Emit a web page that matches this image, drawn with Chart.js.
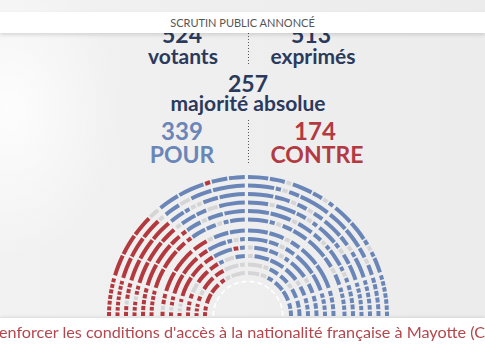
<!DOCTYPE html>
<html><head><meta charset="utf-8">
<script src="https://cdn.jsdelivr.net/npm/chart.js@4.4.1/dist/chart.umd.min.js"></script>
<style>
html,body{margin:0;padding:0;width:485px;height:360px;overflow:hidden;}
body{position:relative;background:#ececec;font-family:Lato,"Open Sans",sans-serif;}
#bg{position:absolute;left:0;top:0;width:485px;height:360px;
 background:radial-gradient(ellipse 110px 150px at 10px 110px, rgba(255,255,255,0.85), rgba(255,255,255,0) 100%),
 linear-gradient(90deg,#f2f2f2 0%,#efefef 40%,#ececec 100%);}
#header{position:absolute;left:0;top:12px;width:485px;height:21px;background:#fff;box-shadow:0 2px 4px rgba(0,0,0,0.13);
 text-align:center;font-size:11px;line-height:21px;color:#555;z-index:5;}
.t{position:absolute;white-space:nowrap;font-weight:700;line-height:1;transform:translateX(-50%);color:#2b3a5c;}
.dots{position:absolute;left:247.5px;width:1px;background:repeating-linear-gradient(to bottom,#5a5a5a 0 1.2px,rgba(0,0,0,0) 1.2px 3px);}
#hemi{position:absolute;}
#banner{position:absolute;left:0;top:318px;width:485px;height:42px;background:#fff;box-shadow:0 -1px 3px rgba(0,0,0,0.10);z-index:5;overflow:hidden;}
#banner span{position:absolute;left:-1px;top:6px;font-size:16.2px;line-height:1;color:#b3474c;white-space:nowrap;}
</style></head>
<body>
<div id="bg"></div>
<div id="header">SCRUTIN PUBLIC ANNONCÉ</div>
<div class="t" id="tVot" style="left:182px;top:23px;font-size:23px;"></div>
<div class="t" id="tVotL" style="left:183px;top:45px;font-size:21px;">votants</div>
<div class="t" id="tExp" style="left:311px;top:23px;font-size:23px;"></div>
<div class="t" id="tExpL" style="left:313px;top:45px;font-size:21px;">exprimés</div>
<div class="dots" style="top:33px;height:33px;"></div>
<div class="t" id="tMaj" style="left:248px;top:72px;font-size:23px;"></div>
<div class="t" style="left:248px;top:92px;font-size:21px;">majorité absolue</div>
<div class="t" id="tPour" style="left:182px;top:119px;font-size:24px;color:#6a86b8;"></div>
<div class="t" style="left:182px;top:143px;font-size:23px;color:#6a86b8;">POUR</div>
<div class="t" id="tContre" style="left:315px;top:119px;font-size:24px;color:#b23a41;"></div>
<div class="t" style="left:317px;top:143px;font-size:23px;color:#b23a41;">CONTRE</div>
<div class="dots" style="top:120px;height:45px;"></div>
<canvas id="hemi" width="284" height="142"></canvas>
<div id="banner"><span>enforcer les conditions d'accès à la nationalité française à Mayotte (C</span></div>
<script>
// ---- vote figures ----
const votants = 524;
const exprimes = 513;
const majorite = 257;
const pour = 339;
const contre = 174;

// ---- seats of the hemicycle, outer row first, left to right, by sector ----
// r = contre, b = pour, g = non votant / abstention ; space = small break
const row01 = ["r r r r r r r", "rrrr rrrr rrrr gg", "bbbb bbbbb rbbb bbb", "bbbb bbb g bbbb bbgb", "bbbb bbbb bgb bbb", "b b b b b b b"];
const row02 = ["r r r r r r r", "rrrr rrrr rrrr g", "bbb gg bbbb bbbbbb", "bbbbb bgbb bbbbbb", "bbbb bbbb bbgbb", "b b b b b b"];
const row03 = ["r r g r r r", "rrrr rrrr rrrr", "bbb bg gbbb bbbbb", "bbbbb bbbg bbgbb", "bbbb bbgb bbbb", "b b b b b b"];
const row04 = ["r r r g r r", "rrrr rrrr rrr", "gbbb bbgg bbbbb", "bbbb gbbbb bbgb", "bbbb bgbb bbb", "b b b b b b"];
const row05 = ["r r r r r", "rrrr rrrr rr", "rbbb gbbb bbbb", "bbbb bbbb gbbb", "bbgb bbbb bgb", "b b b b b"];
const row06 = ["r r r r r", "rrrr rrrr rr", "rbbb bbgb bbb", "bbbb bgbb bbb", "bbbb bbgbb", "b b b b b"];
const row07 = ["r g r r", "rrrr rrrrr", "rrr gbbb bbb", "bbbb bbb gbb", "bbbb bbbbb", "b b b b"];
const row08 = ["r g r r", "rrrr rrrr", "rr bbbb bgb", "bbbb bbgbb", "bbbb bbb", "b b b b"];
const row09 = ["r g g r", "rrrr rrr", "rr bbbb rb", "gbbb bbgb", "bbbb gbb", "b b b"];
const row10 = ["r r r", "rgg rrr", "rr bgg bb", "gbbb bbb", "bbb gbb", "b b b"];
const row11 = ["r r r", "r g rrr", "rr ggg g", "ggg gbb", "bb gbb", "b b"];
const row12 = ["r r", "rr rr", "rg ggg", "gg gb", "bb bb", "b b"];
const rows = [row01, row02, row03, row04, row05, row06, row07, row08, row09, row10, row11, row12];
const sectorAngles = [17, 34, 39, 39, 34, 17];   // degrees, left to right

// ---- texts ----
document.getElementById('tVot').textContent = votants;
document.getElementById('tExp').textContent = exprimes;
document.getElementById('tMaj').textContent = majorite;
document.getElementById('tPour').textContent = pour;
document.getElementById('tContre').textContent = contre;

// ---- layout / style ----
const seatColors = {r: '#b3393f', b: '#6a86b8', g: '#d5d5d7'};
const CLEAR = 'rgba(0,0,0,0)';
const CX = 248, CY = 316;
const rowRadius = [139, 130.5, 122, 113.5, 105, 96.5, 85.5, 77, 68.5, 60, 51.5, 43];
const SEAT = 4, GAP_PX = 1.7, AISLE_PX = 3.2;
const ARC_OUT = 35.5, ARC_IN = 33.8;
const RO = rowRadius[0] + SEAT / 2;

const cv = document.getElementById('hemi');
cv.width = Math.round(RO * 2); cv.height = Math.round(RO);
cv.style.left = (CX - cv.width / 2) + 'px';
cv.style.top = (CY - cv.height) + 'px';

const datasets = [];
rows.forEach((sectors, i) => {
  const r = rowRadius[i];
  const gapDeg = GAP_PX / r * 180 / Math.PI;
  const aisleDeg = AISLE_PX / r * 180 / Math.PI;
  const data = [], bg = [];
  sectors.forEach((s, k) => {
    const runs = [];
    let open = false;
    for (const ch of s) {
      if (ch === ' ') { open = false; continue; }
      const last = runs[runs.length - 1];
      if (open && last && last.c === ch) last.n++;
      else { runs.push({c: ch, n: 1}); open = true; }
    }
    const n = runs.reduce((a, b) => a + b.n, 0);
    const isLast = k === sectors.length - 1;
    const seatDeg = (sectorAngles[k] - (isLast ? 0 : aisleDeg) - (runs.length - 1) * gapDeg) / n;
    runs.forEach((run, j) => {
      if (j) { data.push(gapDeg); bg.push(CLEAR); }
      data.push(run.n * seatDeg); bg.push(seatColors[run.c]);
    });
    if (!isLast) { data.push(aisleDeg); bg.push(CLEAR); }
  });
  datasets.push({data, backgroundColor: bg, weight: SEAT, borderWidth: 0});
  const nextOuter = i < rows.length - 1 ? rowRadius[i + 1] + SEAT / 2 : ARC_OUT;
  datasets.push({data: [1], backgroundColor: [CLEAR], weight: (r - SEAT / 2) - nextOuter, borderWidth: 0});
});
// white dashed inner arc
const dash = [], dashBg = [];
for (let i = 0; i < 27; i++) { dash.push(i % 2 ? 0.55 : 1); dashBg.push(i % 2 ? CLEAR : 'rgba(255,255,255,0.95)'); }
datasets.push({data: dash, backgroundColor: dashBg, weight: ARC_OUT - ARC_IN, borderWidth: 0});

new Chart(cv, {
  type: 'doughnut',
  data: {labels: [], datasets},
  options: {
    responsive: false,
    animation: false,
    events: [],
    rotation: -90,
    circumference: 180,
    cutout: (ARC_IN / RO * 100) + '%',
    layout: {padding: 0},
    plugins: {legend: {display: false}, tooltip: {enabled: false}}
  }
});
</script>
</body></html>
